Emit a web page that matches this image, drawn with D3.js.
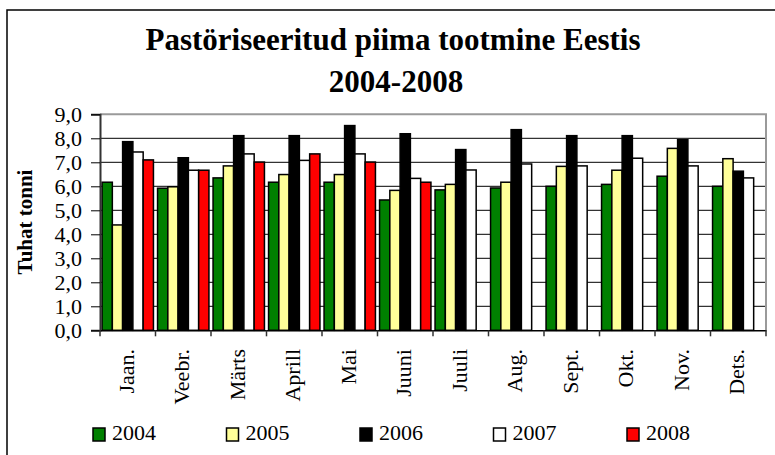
<!DOCTYPE html>
<html><head><meta charset="utf-8">
<script src="https://cdn.jsdelivr.net/npm/d3@7"></script>
<style>body{margin:0;background:#fff}svg{display:block}text{font-family:"Liberation Serif","Times New Roman",serif}</style>
</head><body><svg id="c" width="775" height="455"></svg>
<script>
const months = ["Jaan.","Veebr.","Märts","Aprill","Mai","Juuni","Juuli","Aug.","Sept.","Okt.","Nov.","Dets."];
const years = ["2004","2005","2006","2007","2008"];
const colors = ["#008000","#FFFF99","#000000","#FFFFFF","#FF0000"];
const v2004 = [6.17,5.92,6.35,6.17,6.17,5.43,5.85,5.93,6.00,6.08,6.42,6.00];
const v2005 = [4.39,5.98,6.85,6.49,6.49,5.83,6.08,6.17,6.83,6.67,7.58,7.15];
const v2006 = [7.86,7.19,8.11,8.11,8.53,8.19,7.53,8.36,8.11,8.11,7.94,6.63];
const v2007 = [7.43,6.67,7.35,7.08,7.35,6.33,6.68,6.93,6.85,7.17,6.85,6.35];
const v2008 = [7.10,6.67,7.01,7.35,7.01,6.17,null,null,null,null,null,null];
const yTicks = [0,1,2,3,4,5,6,7,8,9];
const series = [v2004,v2005,v2006,v2007,v2008];
const FONT = "'Liberation Serif', 'Times New Roman', serif";

const svg = d3.select("#c");
const L = 100, R = 766, T = 114.3, B = 330.3;

svg.append("rect").attr("x",7).attr("y",10).attr("width",900).attr("height",600)
  .attr("fill","#fff").attr("stroke","#000").attr("stroke-width",1.5);

const x = d3.scaleBand().domain(months).range([L,R]);
const xi = d3.scaleBand().domain(years).range([0,x.bandwidth()]).paddingOuter(0.2);
const y = d3.scaleLinear().domain([0,9]).range([B,T]);

svg.append("g").selectAll("line").data(yTicks.filter(d=>d>0 && d<9)).join("line")
  .attr("x1",L).attr("x2",R).attr("y1",d=>y(d)).attr("y2",d=>y(d))
  .attr("stroke","#000").attr("stroke-width",1);
svg.append("path").attr("d",`M${L},${y(9)}H${R}V${B}`).attr("fill","none")
  .attr("stroke","#9a9a9a").attr("stroke-width",2);

const g = svg.append("g");
series.forEach((vals,si)=>{
  g.append("g").selectAll("rect").data(months.map((m,i)=>({m,v:vals[i]})).filter(d=>d.v!=null)).join("rect")
    .attr("x",d=>x(d.m)+xi(years[si]))
    .attr("width",xi.bandwidth())
    .attr("y",d=>y(d.v))
    .attr("height",d=>B-y(d.v))
    .attr("fill",colors[si]).attr("stroke","#000").attr("stroke-width",1.5);
});

const ya = svg.append("g").attr("transform",`translate(${L},0)`)
  .call(d3.axisLeft(y).tickValues(yTicks).tickSize(9).tickPadding(9)
    .tickFormat(d=>d3.format(".1f")(d).replace(".",",")));
ya.attr("font-family",FONT);
ya.select(".domain").attr("stroke","#333").attr("stroke-width",2);
ya.selectAll(".tick line").attr("stroke","#000");
ya.selectAll("text").attr("font-size",22).attr("fill","#000").style("font-family",FONT);

const xa = svg.append("g").attr("transform",`translate(0,${B})`)
  .call(d3.axisBottom(x).tickSize(0).tickFormat(""));
xa.select(".domain").attr("stroke","#000").attr("stroke-width",1.5);
svg.append("g").selectAll("line").data(d3.range(months.length+1)).join("line")
  .attr("x1",i=>L+i*x.step()).attr("x2",i=>L+i*x.step())
  .attr("y1",B).attr("y2",B+6).attr("stroke","#333").attr("stroke-width",1.5);
svg.append("g").selectAll("text").data(months).join("text")
  .attr("transform",d=>`translate(${x(d)+x.bandwidth()/2+6},349) rotate(-90)`)
  .attr("text-anchor","end").attr("font-size",22).attr("fill","#000")
  .style("font-family",FONT).text(d=>d);

svg.append("text").attr("transform",`translate(32,222) rotate(-90)`)
  .attr("text-anchor","middle").attr("font-size",21).attr("font-weight","bold")
  .style("font-family",FONT).text("Tuhat tonni");

svg.append("text").attr("x",393).attr("y",50).attr("text-anchor","middle")
  .attr("font-size",31).attr("font-weight","bold").style("font-family",FONT)
  .text("Pastöriseeritud piima tootmine Eestis");
svg.append("text").attr("x",396).attr("y",92).attr("text-anchor","middle")
  .attr("font-size",31).attr("font-weight","bold").style("font-family",FONT).text("2004-2008");

const lg = svg.append("g").selectAll("g").data(years).join("g")
  .attr("transform",(d,i)=>`translate(${93+i*133.5},428)`);
lg.append("rect").attr("width",12).attr("height",13)
  .attr("fill",(d,i)=>colors[i]).attr("stroke","#000").attr("stroke-width",1.5);
lg.append("text").attr("x",19).attr("y",12).attr("font-size",22).attr("fill","#000")
  .style("font-family",FONT).text(d=>d);
</script></body></html>
